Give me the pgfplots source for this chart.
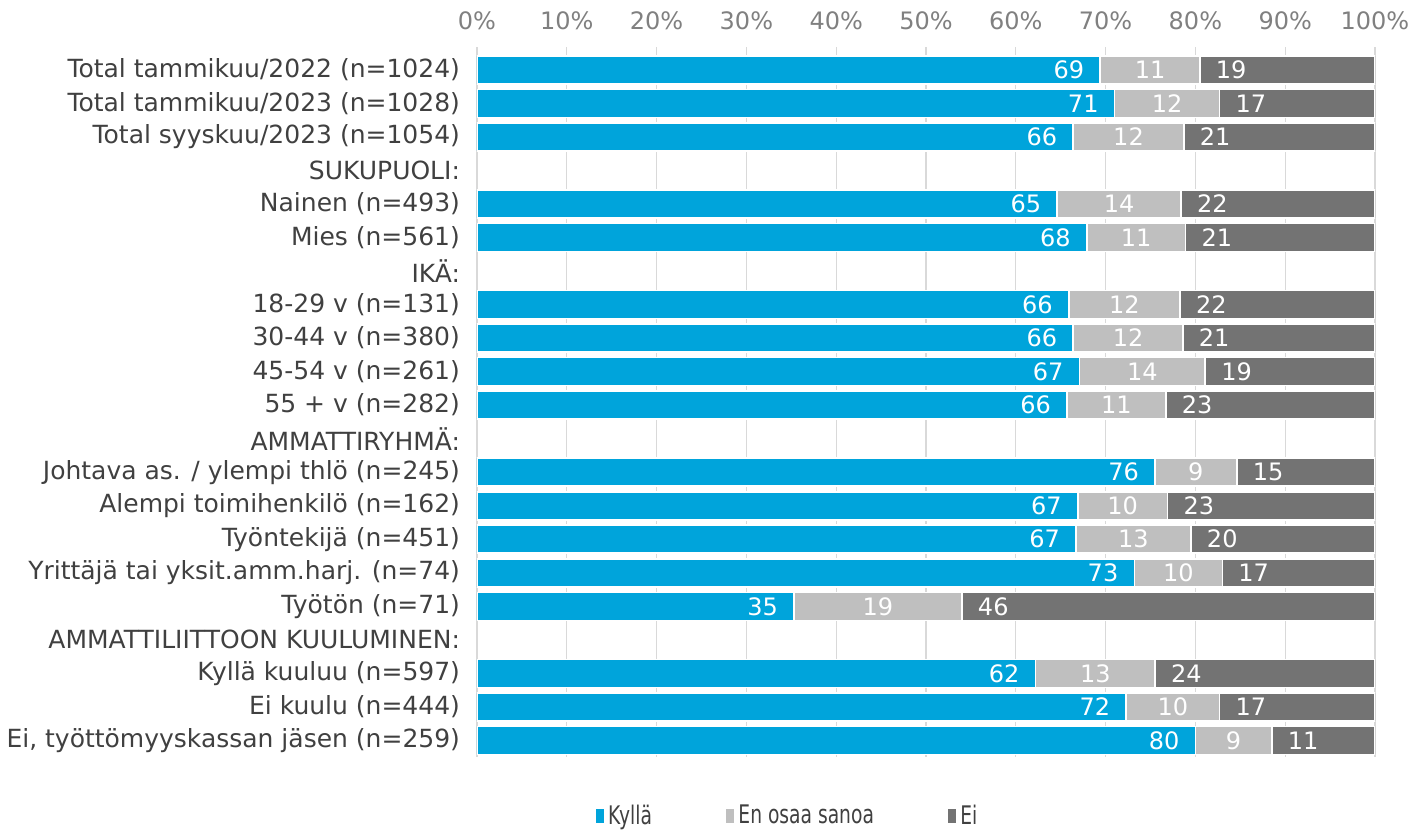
\documentclass[border=0pt]{standalone}
\usepackage{fontspec}
\setmainfont{DejaVu Sans}
\usepackage{graphicx}
\usepackage{pgfplots}
\usepackage{pgfplotstable}
\pgfplotsset{compat=1.18}
\definecolor{cblue}{RGB}{0,164,219}
\definecolor{clight}{RGB}{191,191,191}
\definecolor{cdark}{RGB}{115,115,115}
\definecolor{ctext}{RGB}{64,64,64}
\definecolor{cgrid}{RGB}{217,217,217}
\definecolor{ctick}{RGB}{128,128,128}

\pgfplotstableread{
r k e i lk le li
0 69.4 11.1 19.5 69 11 19
1 71.0 11.7 17.3 71 12 17
2 66.4 12.3 21.3 66 12 21
4 64.6 13.8 21.6 65 14 22
5 67.9 11.0 21.1 68 11 21
7 65.9 12.4 21.7 66 12 22
8 66.4 12.2 21.4 66 12 21
9 67.1 14.0 18.9 67 14 19
10 65.7 11.0 23.3 66 11 23
12 75.5 9.1 15.4 76 9 15
13 66.9 10.0 23.1 67 10 23
14 66.7 12.8 20.5 67 13 20
15 73.2 9.8 17.0 73 10 17
16 35.3 18.7 46.0 35 19 46
18 62.2 13.3 24.5 62 13 24
19 72.3 10.4 17.3 72 10 17
20 80.0 8.5 11.5 80 9 11
}\data

\pgfplotsset{
  myaxis/.style={
    at={(238.5pt,36.9pt)}, anchor=south west, scale only axis,
    width=449pt, height=355.1pt,
    xmin=0, xmax=100, ymin=-0.68, ymax=20.5, y dir=reverse,
    axis line style={draw=none}, tick style={draw=none},
  },
  legsq/.style={legend image code/.code={\fill[##1,draw=none] (0pt,-3.7pt) rectangle (4.2pt,3.7pt);}},
}

\begin{document}
\begin{tikzpicture}[font=\fontsize{12}{14}\selectfont]
\path[use as bounding box] (0,0) rectangle (707pt,415.5pt);
\begin{axis}[myaxis, xbar stacked, bar width=14pt,
  xtick={0,10,...,100},
  xticklabels={0\%,10\%,20\%,30\%,40\%,50\%,60\%,70\%,80\%,90\%,100\%},
  xticklabel pos=upper,
  xmajorgrids, grid style={cgrid, line width=0.6pt},
  xticklabel style={ctick, yshift=5pt},
  ytick={0,...,20},
  yticklabels={Total tammikuu/2022 (n=1024),Total tammikuu/2023 (n=1028),Total syyskuu/2023 (n=1054),SUKUPUOLI:,Nainen (n=493),Mies (n=561),IKÄ:,18-29 v (n=131),30-44 v (n=380),45-54 v (n=261),55 + v (n=282),AMMATTIRYHMÄ:,Johtava as. / ylempi thlö (n=245),Alempi toimihenkilö (n=162),Työntekijä (n=451),Yrittäjä tai yksit.amm.harj. (n=74),Työtön (n=71),AMMATTILIITTOON KUULUMINEN:,Kyllä kuuluu (n=597),Ei kuulu (n=444),{Ei, työttömyyskassan jäsen (n=259)}},
  yticklabel style={ctext, xshift=-5pt, font=\fontsize{12.5}{14}\selectfont},
  legend style={at={(0.347,-0.0828)}, anchor=center, draw=none, fill=none,
    legend columns=3, font=\fontsize{12.8}{15}\selectfont, text=ctext,
    /tikz/every even column/.append style={column sep=35pt}},
]
\addplot[fill=cblue, draw=white, line width=0.8pt, legsq] table[x=k,y=r]{\data};
\addlegendentry{\scalebox{0.73}[1]{Kyllä}}
\addplot[fill=clight, draw=white, line width=0.8pt, legsq] table[x=e,y=r]{\data};
\addlegendentry{\scalebox{0.73}[1]{En osaa sanoa}}
\addplot[fill=cdark, draw=white, line width=0.8pt, legsq] table[x=i,y=r]{\data};
\addlegendentry{\scalebox{0.73}[1]{Ei}}
\end{axis}
\begin{axis}[myaxis, hide axis, clip=false]
\addplot[draw=none, mark=none, nodes near coords, point meta=explicit symbolic,
  nodes near coords style={white, anchor=east, xshift=-4.5pt}]
  table[x=k, y=r, meta=lk]{\data};
\addplot[draw=none, mark=none, nodes near coords, point meta=explicit symbolic,
  nodes near coords style={white, anchor=center}]
  table[x expr=\thisrow{k}+0.5*\thisrow{e}, y=r, meta=le]{\data};
\addplot[draw=none, mark=none, nodes near coords, point meta=explicit symbolic,
  nodes near coords style={white, anchor=west, xshift=4.5pt}]
  table[x expr=\thisrow{k}+\thisrow{e}, y=r, meta=li]{\data};
\end{axis}
\end{tikzpicture}
\end{document}
